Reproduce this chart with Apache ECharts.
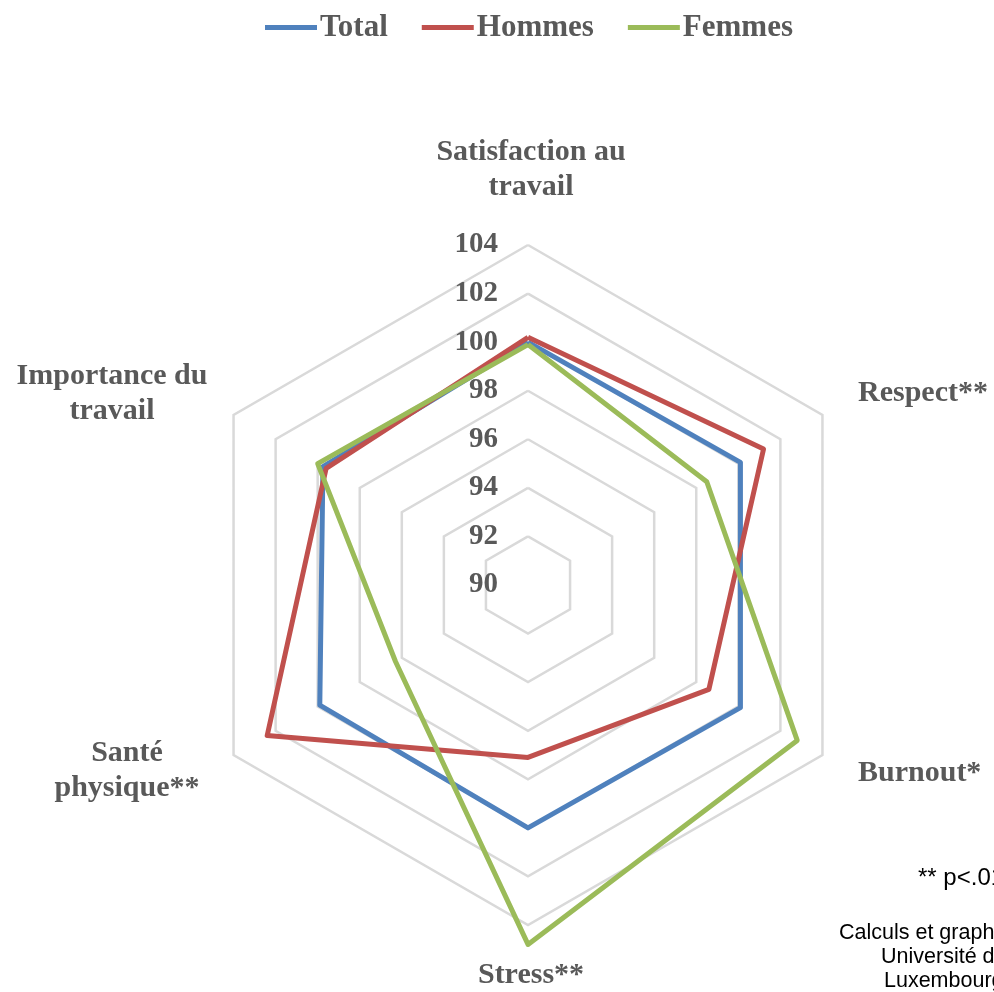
<!DOCTYPE html>
<html>
<head>
<meta charset="utf-8">
<script src="https://cdn.jsdelivr.net/npm/echarts@6/dist/echarts.min.js"></script>
<style>
html,body{margin:0;padding:0;background:#fff;}
#chart{width:994px;height:992px;}
</style>
</head>
<body>
<div id="chart"></div>
<script>
// Categories in clockwise order starting from the top
const categories = ['Satisfaction au\ntravail', 'Respect**', 'Burnout*', 'Stress**', 'Santé\nphysique**', 'Importance du\ntravail'];
const seriesNames = ['Total', 'Hommes', 'Femmes'];
const totalValues  = [100.0, 100.1, 100.1, 100.0, 99.9, 99.75];
const hommesValues = [100.2, 101.2, 98.6, 97.1, 102.4, 99.6];
const femmesValues = [99.9, 98.5, 102.8, 104.8, 96.3, 100.0];
const axisMin = 90, axisMax = 104, axisStep = 2;
const colors = ['#4F81BD', '#C0504D', '#9BBB59'];

// ECharts places indicators counter-clockwise; reorder to get clockwise layout
const order = [0, 5, 4, 3, 2, 1];
const reorder = arr => order.map(i => arr[i]);

const cx = 528, cy = 585, R = 340;
const serif = 'Liberation Serif';
const txtColor = '#595959';
const nameStyle = {fontFamily: serif, fontSize: 30, fontWeight: 'bold', fill: txtColor, textAlign: 'center', textVerticalAlign: 'middle', lineHeight: 35};

const chart = echarts.init(document.getElementById('chart'));
chart.setOption({
  animation: false,
  color: colors,
  legend: {
    top: 7, left: 260,
    data: seriesNames,
    icon: 'rect', itemWidth: 52, itemHeight: 5, itemGap: 34,
    textStyle: {fontFamily: serif, fontSize: 31, fontWeight: 'bold', color: txtColor, padding: [0,0,0,-2]}
  },
  radar: {
    center: [cx, cy], radius: R, startAngle: 90, shape: 'polygon',
    splitNumber: (axisMax - axisMin) / axisStep,
    indicator: reorder(categories).map(n => ({name: n, min: axisMin, max: axisMax})),
    axisName: {show: false},
    axisLine: {show: false}, axisTick: {show: false}, axisLabel: {show: false},
    splitLine: {lineStyle: {color: '#D9D9D9', width: 2.5}},
    splitArea: {show: false}
  },
  polar: {center: [cx, cy], radius: R},
  angleAxis: {type: 'value', min: 0, max: 360, startAngle: 90, show: false},
  radiusAxis: {
    type: 'value', min: axisMin, max: axisMax, interval: axisStep,
    axisLine: {show: false}, axisTick: {show: false}, splitLine: {show: false},
    axisLabel: {inside: true, margin: 30, fontFamily: serif, fontSize: 29, fontWeight: 'bold', color: txtColor}
  },
  series: [
    {
      type: 'radar', symbol: 'none',
      lineStyle: {width: 5},
      data: [
        {name: seriesNames[0], value: reorder(totalValues), lineStyle: {color: colors[0], width: 5}, itemStyle: {color: colors[0]}},
        {name: seriesNames[1], value: reorder(hommesValues), lineStyle: {color: colors[1], width: 5}, itemStyle: {color: colors[1]}},
        {name: seriesNames[2], value: reorder(femmesValues), lineStyle: {color: colors[2], width: 5}, itemStyle: {color: colors[2]}}
      ]
    },
    {type: 'scatter', coordinateSystem: 'polar', data: [], silent: true}
  ],
  graphic: [
    {type: 'text', x: 531, y: 170, style: Object.assign({}, nameStyle, {text: categories[0]})},
    {type: 'text', x: 858, y: 393, style: Object.assign({}, nameStyle, {text: categories[1], textAlign: 'left'})},
    {type: 'text', x: 858, y: 773, style: Object.assign({}, nameStyle, {text: categories[2], textAlign: 'left'})},
    {type: 'text', x: 531, y: 975, style: Object.assign({}, nameStyle, {text: categories[3]})},
    {type: 'text', x: 127, y: 771, style: Object.assign({}, nameStyle, {text: categories[4]})},
    {type: 'text', x: 112, y: 394, style: Object.assign({}, nameStyle, {text: categories[5]})},
    {type: 'text', x: 918, y: 878, style: {text: '** p<.01', fontFamily: 'Liberation Sans', fontSize: 24, fill: '#000', textVerticalAlign: 'middle'}},
    {type: 'text', x: 839, y: 933, style: {text: 'Calculs et graphiques :', fontFamily: 'Liberation Sans', fontSize: 21.5, fill: '#000', textVerticalAlign: 'middle'}},
    {type: 'text', x: 881, y: 957, style: {text: 'Université du', fontFamily: 'Liberation Sans', fontSize: 21.5, fill: '#000', textVerticalAlign: 'middle'}},
    {type: 'text', x: 884, y: 981, style: {text: 'Luxembourg', fontFamily: 'Liberation Sans', fontSize: 21.5, fill: '#000', textVerticalAlign: 'middle'}}
  ]
});
</script>
</body>
</html>
